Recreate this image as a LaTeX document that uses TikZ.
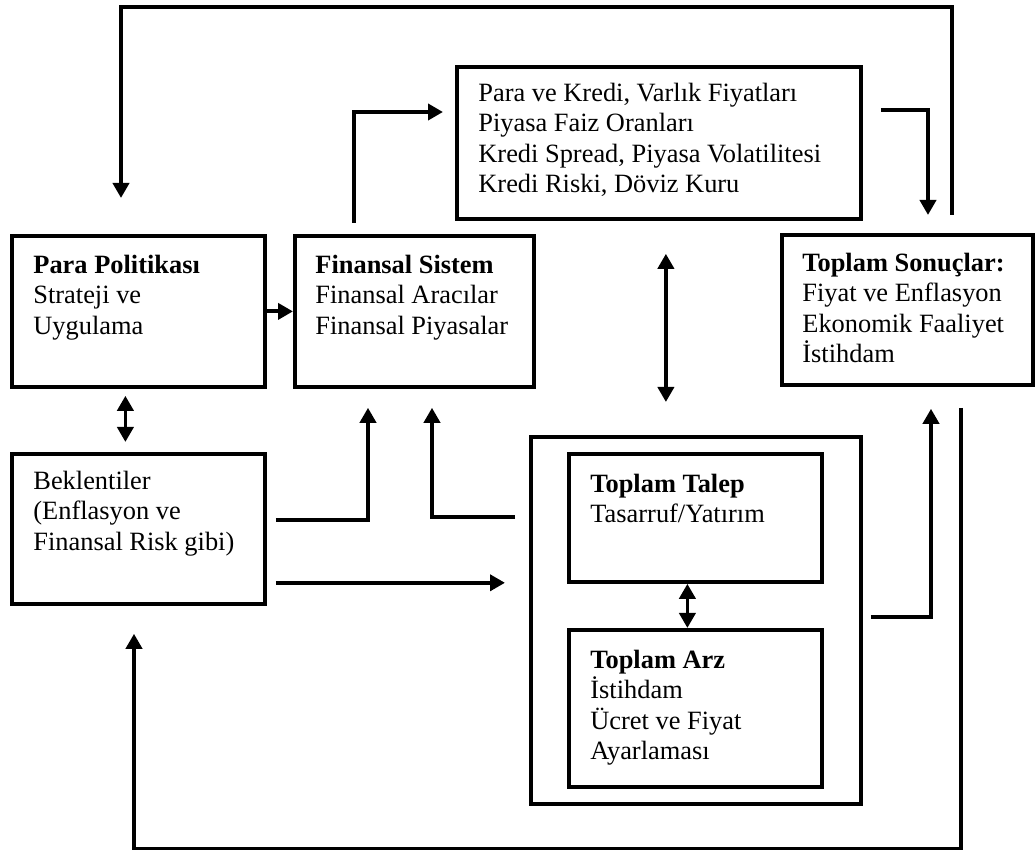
\documentclass[tikz,border=0pt]{standalone}
\usepackage{fontspec}
\setmainfont{Liberation Serif}
\usepackage{tikz}
\usetikzlibrary{positioning,calc,arrows.meta}

\begin{document}
\begin{tikzpicture}[
    x=0.5pt, y=-0.5pt,
    box/.style={rectangle, draw, line width=1.9pt, anchor=north west, inner sep=0pt},
    txt/.style={anchor=north west, align=left, inner sep=0pt, font={\fontsize{13.2}{15.1}\selectfont}},
    arr/.style={line width=1.9pt, -{Triangle[length=7.5pt, width=8pt]}},
    darr/.style={line width=1.9pt, {Triangle[length=7.5pt, width=8pt]}-{Triangle[length=7.5pt, width=8pt]}}
]
    \useasboundingbox (0,0) rectangle (1035,850);

    % boxes
    \node[box, minimum width=126.5pt, minimum height=75.5pt] (pp) at (10,234) {};
    \node[box, minimum width=119.5pt, minimum height=75.5pt] (fs) at (293,234) {};
    \node[box, minimum width=202pt, minimum height=76pt] (chan) at (455,65) {};
    \node[box, minimum width=125.5pt, minimum height=75pt] (ts) at (780,233) {};
    \node[box, minimum width=126.5pt, minimum height=75pt] (bek) at (10,452) {};
    \node[box, minimum width=165pt, minimum height=183.5pt] (big) at (529,435) {};
    \node[box, minimum width=126.5pt, minimum height=64pt] (ad) at (567,452) {};
    \node[box, minimum width=126.5pt, minimum height=78.5pt] (as) at (567,628) {};

    % texts
    \node[txt] (ppT) at ($(pp.north west)+(23,21)$) {\textbf{Para Politikası}\\Strateji ve\\Uygulama};
    \node[txt] (fsT) at ($(fs.north west)+(22,21)$) {\textbf{Finansal Sistem}\\Finansal Aracılar\\Finansal Piyasalar};
    \node[txt] (chanT) at ($(chan.north west)+(23,18)$) {Para ve Kredi, Varlık Fiyatları\\Piyasa Faiz Oranları\\Kredi Spread, Piyasa Volatilitesi\\Kredi Riski, Döviz Kuru};
    \node[txt] (tsT) at ($(ts.north west)+(22,20)$) {\textbf{Toplam Sonuçlar:}\\Fiyat ve Enflasyon\\Ekonomik Faaliyet\\İstihdam};
    \node[txt] (bekT) at ($(bek.north west)+(23,19)$) {Beklentiler\\(Enflasyon ve\\Finansal Risk gibi)};
    \node[txt] (adT) at ($(ad.north west)+(23,22)$) {\textbf{Toplam Talep}\\Tasarruf/Yatırım};
    \node[txt] (asT) at ($(as.north west)+(23,22)$) {\textbf{Toplam Arz}\\İstihdam\\Ücret ve Fiyat\\Ayarlaması};

    % connectors
    \draw[arr] ($(ts.north west)+(172,-18)$) -- ++(0,-208) -| ($(pp.north west)+(111,-36)$);
    \draw[arr] ($(chan.north east)+(18,45)$) -| ($(ts.north west)+(148,-18)$);
    \draw[arr] ($(fs.north west)+(61,-11)$) |- ($(chan.north west)+(-12,47)$);
    \draw[arr] (pp.east) -- (fs.west);
    \draw[darr] ($(pp.south)+(-13,7)$) -- ($(bek.north)+(-13,-10)$);
    \draw[darr] ($(chan.south)+(7,33)$) -- ($(chan.south |- big.north)+(7,-33)$);
    \draw[arr] ($(bek.east)+(9,-9)$) -| ($(fs.south west)+(75,19)$);
    \draw[arr] ($(big.north west)+(-14,82)$) -| ($(fs.south west)+(139,19)$);
    \draw[arr] ($(bek.south east)+(9,-23)$) -- ($(bek.south east -| big.west)+(-24,-23)$);
    \draw[darr] ($(ad.south)+(-8,0)$) -- ($(as.north)+(-8,0)$);
    \draw[arr] ($(big.east)+(8,-3)$) -| ($(ts.south west)+(151,22)$);
    \draw[arr] ($(ts.south west)+(181,21)$) -- ++(0,441) -| ($(bek.south west)+(124,28)$);
\end{tikzpicture}
\end{document}
